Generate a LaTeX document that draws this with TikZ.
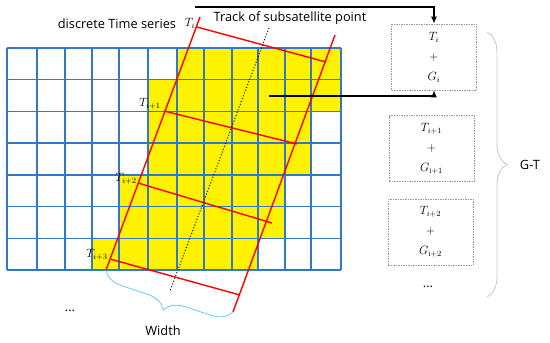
\documentclass[tikz,border=0pt]{standalone}
\usepackage{amsmath}
\usepackage{fontspec}
\setsansfont{Open Sans}
\usetikzlibrary{arrows.meta,positioning,decorations.pathreplacing}

\definecolor{gridblue}{RGB}{50,120,200}
\definecolor{braceblue}{RGB}{110,200,245}

\begin{document}
\begin{tikzpicture}[x=1pt, y=-1pt,
  gridline/.style={draw=gridblue, line width=1.4pt},
  cellfill/.style={fill=yellow},
  track/.style={draw=red, line width=1.4pt},
  nadir/.style={draw=black, line width=1pt, dotted},
  txt/.style={font=\sffamily\fontsize{12.8}{14}\selectfont, inner sep=0pt},
  tlabel/.style={font=\fontsize{12}{14}\selectfont, inner sep=0pt},
  gtbox/.style={draw=gray!80, dashed, dash pattern=on 1.5pt off 1pt, line width=0.6pt, minimum width=85pt, minimum height=66pt, align=center, inner sep=0pt, font=\fontsize{12}{20}\selectfont},
  arrow/.style={-{Latex[length=7pt,width=6pt]}, line width=1.2pt},
  gtbrace/.style={draw=gray!45, line width=0.8pt, decorate, decoration={brace, amplitude=20pt}},
  widthbrace/.style={draw=braceblue, line width=0.8pt, decorate, decoration={brace, amplitude=20pt}}
]
  \useasboundingbox (0,0) rectangle (550,343);

  % Grid of cells
  \def\colx{{7,37,65,92,119,148,177,204,232,258,285,311,341}}
  \foreach \r/\a/\b in {0/6/12,1/5/12,2/5/11,3/5/11,4/4/10,5/4/10,6/3/9} {
    \pgfmathsetmacro\xa{\colx[\a]}
    \pgfmathsetmacro\xb{\colx[\b]}
    \fill[cellfill] (\xa,{48+31.72*\r}) rectangle (\xb,{79.72+31.72*\r});
  }
  \foreach \i in {0,...,12} {
    \pgfmathsetmacro\xx{\colx[\i]}
    \draw[gridline] (\xx,48) -- (\xx,270);
  }
  \foreach \r in {0,...,7}
    \draw[gridline] (7,{48+31.72*\r}) -- (341,{48+31.72*\r});

  % Swath edges and time lines
  \coordinate (ltop) at (200,17);
  \coordinate (lbot) at (106,270);
  \coordinate (rtop) at (335,35);
  \coordinate (rbot) at (233,312);
  \draw[track] (ltop) -- (lbot);
  \draw[track] (rtop) -- (rbot);

  \coordinate (t0a) at (197,27);  \coordinate (t0b) at (326,62);
  \coordinate (t1a) at (164,111); \coordinate (t1b) at (297,144);
  \coordinate (t2a) at (138,183); \coordinate (t2b) at (272,223);
  \coordinate (t3a) at (110,259); \coordinate (t3b) at (240,295);
  \draw[track] (t0a) -- (t0b);
  \draw[track] (t1a) -- (t1b);
  \draw[track] (t2a) -- (t2b);
  \draw[track] (t3a) -- (t3b);

  % Subsatellite track
  \coordinate (ntop) at (269,28);
  \coordinate (nbot) at (170,291);
  \draw[nadir] (ntop) -- (nbot);

  % Labels
  \node[tlabel] (lab0) at (190,23) {$T_i$};
  \node[tlabel] (lab1) at (150,104) {$T_{i+1}$};
  \node[tlabel] (lab2) at (126,179) {$T_{i+2}$};
  \node[tlabel] (lab3) at (97,255) {$T_{i+3}$};
  \node[txt] (series) at (117,24) {discrete Time series};
  \node[txt] (track) at (290,18) {Track of subsatellite point};

  % G-T boxes
  \node[gtbox] (gt0) at (434,57) {$T_i$\\+\\$G_i$};
  \node[gtbox, below=25pt of gt0, xshift=-2.5pt] (gt1) {$T_{i+1}$\\+\\$G_{\mathrm{i+1}}$};
  \node[gtbox, below=17pt of gt1, xshift=-1pt] (gt2) {$T_{i+2}$\\+\\$G_{\mathrm{i+2}}$};
  \node[txt] (gtdots) at (428,287) {...};

  % Arrows
  \coordinate (trackstart) at (195,7);
  \coordinate (gridpt) at (269,96);
  \draw[arrow] (trackstart) -| (gt0.north);
  \draw[arrow] (gridpt) -| (gt0.south);

  % Braces
  \coordinate (bracetop) at (487,32);
  \coordinate (bracebot) at (487,297);
  \draw[gtbrace] (bracetop) -- (bracebot);
  \node[txt] (gt) at (530,165) {G-T};

  \draw[widthbrace] (rbot) -- (lbot);
  \node[txt] (width) at (163,331) {Width};
  \node[txt] (leftdots) at (70,311) {...};
\end{tikzpicture}
\end{document}
